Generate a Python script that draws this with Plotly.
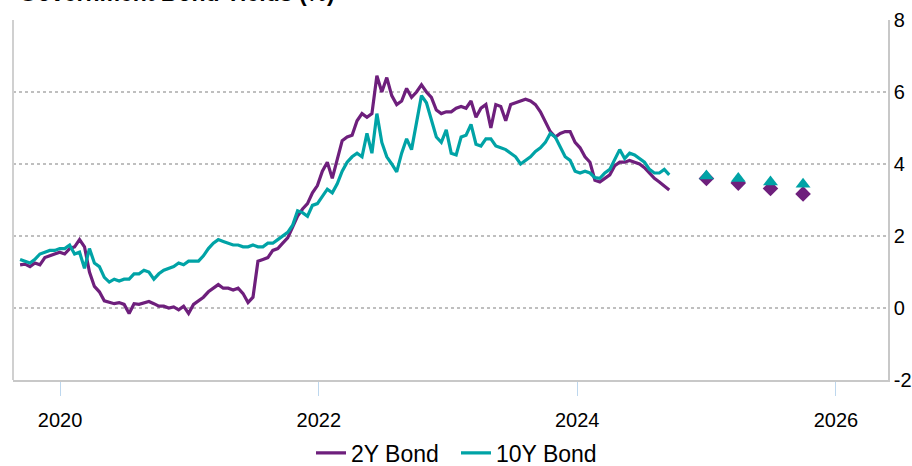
import pandas as pd
import plotly.graph_objects as go

# Fortnightly observations, 10 Sep 2019 to 18 Sep 2024
dates = pd.date_range("2019-09-10", periods=132, freq="14D")

yield_2y = [
    1.20, 1.22, 1.15, 1.25, 1.20, 1.40, 1.45, 1.50, 1.55, 1.50,
    1.65, 1.70, 1.90, 1.70, 1.00, 0.60, 0.45, 0.20, 0.15, 0.12,
    0.15, 0.10, -0.15, 0.12, 0.10, 0.15, 0.18, 0.12, 0.05, 0.05,
    0.00, 0.03, -0.05, 0.05, -0.15, 0.10, 0.20, 0.30, 0.45, 0.55,
    0.65, 0.55, 0.55, 0.50, 0.55, 0.40, 0.15, 0.30, 1.30, 1.35,
    1.40, 1.60, 1.65, 1.80, 1.95, 2.25, 2.55, 2.75, 2.90, 3.20,
    3.40, 3.80, 4.05, 3.60, 4.10, 4.65, 4.75, 4.80, 5.20, 5.40,
    5.30, 5.40, 6.45, 6.00, 6.40, 5.90, 5.65, 5.75, 6.10, 5.85,
    6.00, 6.20, 6.00, 5.85, 5.50, 5.40, 5.45, 5.45, 5.55, 5.60,
    5.55, 5.75, 5.30, 5.55, 5.65, 5.00, 5.65, 5.60, 5.20, 5.65,
    5.70, 5.75, 5.80, 5.75, 5.65, 5.45, 5.15, 4.90, 4.75, 4.85,
    4.90, 4.90, 4.60, 4.45, 4.20, 4.05, 3.55, 3.50, 3.60, 3.70,
    3.95, 4.05, 4.05, 4.10, 4.05, 4.00, 3.90, 3.75, 3.60, 3.50,
    3.40, 3.28,
]

yield_10y = [
    1.35, 1.30, 1.25, 1.35, 1.50, 1.55, 1.60, 1.60, 1.65, 1.65,
    1.75, 1.50, 1.55, 1.10, 1.65, 1.25, 1.15, 0.85, 0.72, 0.80,
    0.75, 0.80, 0.80, 0.95, 0.95, 1.05, 1.00, 0.80, 0.95, 1.05,
    1.10, 1.15, 1.25, 1.20, 1.30, 1.30, 1.30, 1.45, 1.65, 1.80,
    1.90, 1.85, 1.80, 1.75, 1.75, 1.70, 1.70, 1.75, 1.70, 1.70,
    1.80, 1.80, 1.90, 2.00, 2.10, 2.30, 2.70, 2.65, 2.55, 2.85,
    2.90, 3.10, 3.30, 3.20, 3.45, 3.80, 4.05, 4.20, 4.30, 4.20,
    4.85, 4.30, 5.40, 4.60, 4.20, 4.00, 3.78, 4.30, 4.70, 4.40,
    5.20, 5.90, 5.70, 5.20, 4.75, 4.60, 4.95, 4.30, 4.25, 4.75,
    4.80, 5.10, 4.55, 4.50, 4.70, 4.70, 4.50, 4.45, 4.40, 4.30,
    4.20, 4.00, 4.10, 4.20, 4.35, 4.45, 4.60, 4.85, 4.75, 4.45,
    4.20, 4.10, 3.80, 3.75, 3.80, 3.75, 3.62, 3.60, 3.75, 3.85,
    4.15, 4.40, 4.15, 4.30, 4.25, 4.15, 4.05, 3.85, 3.75, 3.75,
    3.85, 3.70,
]

# Quarter-end forecasts
forecast_dates = ["2024-12-31", "2025-03-31", "2025-06-30", "2025-09-30"]
forecast_2y = [3.60, 3.47, 3.32, 3.17]
forecast_10y = [3.67, 3.60, 3.50, 3.44]

tick_years = ["2020-01-01", "2022-01-01", "2024-01-01", "2026-01-01"]
tick_text = ["2020", "2022", "2024", "2026"]
y_ticks = [-2, 0, 2, 4, 6, 8]
y_tick_text = ["-2", "0", "2", "4", "6", "8"]

PURPLE = "#6E1F7C"
TEAL = "#00A3A6"
FONT = "Liberation Sans, Arial, sans-serif"

fig = go.Figure()
fig.add_trace(go.Scatter(x=dates, y=yield_2y, mode="lines", name="2Y Bond",
                         line=dict(color=PURPLE, width=3.2)))
fig.add_trace(go.Scatter(x=dates, y=yield_10y, mode="lines", name="10Y Bond",
                         line=dict(color=TEAL, width=3.2)))
fig.add_trace(go.Scatter(x=forecast_dates, y=forecast_2y, mode="markers",
                         showlegend=False,
                         marker=dict(symbol="diamond", size=12, color=PURPLE)))
fig.add_trace(go.Scatter(x=forecast_dates, y=forecast_10y, mode="markers",
                         showlegend=False,
                         marker=dict(symbol="triangle-up", size=13, color=TEAL)))

fig.update_layout(
    width=912, height=466,
    margin=dict(l=13, r=24, t=20, b=86),
    paper_bgcolor="white", plot_bgcolor="white",
    font=dict(family=FONT, size=20, color="#000000"),
    showlegend=True,
    legend=dict(orientation="h", x=0.5, xanchor="center", xref="container",
                y=0.074, yanchor="top", yref="container",
                entrywidth=100, entrywidthmode="pixels",
                font=dict(size=23), itemwidth=30, bgcolor="rgba(0,0,0,0)"),
    annotations=[dict(text="<b>Government Bond Yields (%)</b>", x=0.005, xref="paper",
                      xanchor="left", y=1.033, yref="paper", yanchor="bottom",
                      showarrow=False, font=dict(size=23, color="#000000"))],
)

fig.update_xaxes(
    range=["2019-08-21", "2026-05-28"],
    tickvals=tick_years, ticktext=tick_text,
    ticks="outside", ticklen=14, tickcolor="#BDD7EE", tickwidth=1,
    ticklabelstandoff=7, automargin=False,
    showgrid=False, zeroline=False,
    showline=True, linecolor="#C8C8C8", linewidth=2,
    tickfont=dict(size=20),
)
fig.update_yaxes(
    side="right", range=[-2, 8], tickvals=y_ticks, ticktext=y_tick_text,
    showgrid=True, gridcolor="#BFBFBF", griddash="dot", gridwidth=1.5,
    zeroline=False, showline=True, linecolor="#C8C8C8", linewidth=1.5,
    ticks="", ticklabelstandoff=0, automargin=False, tickfont=dict(size=20),
)
# Left frame edge
fig.add_shape(type="line", xref="paper", yref="paper", x0=0, x1=0, y0=0, y1=1,
              line=dict(color="#D0D0D0", width=2))

fig.write_html("out.html")
